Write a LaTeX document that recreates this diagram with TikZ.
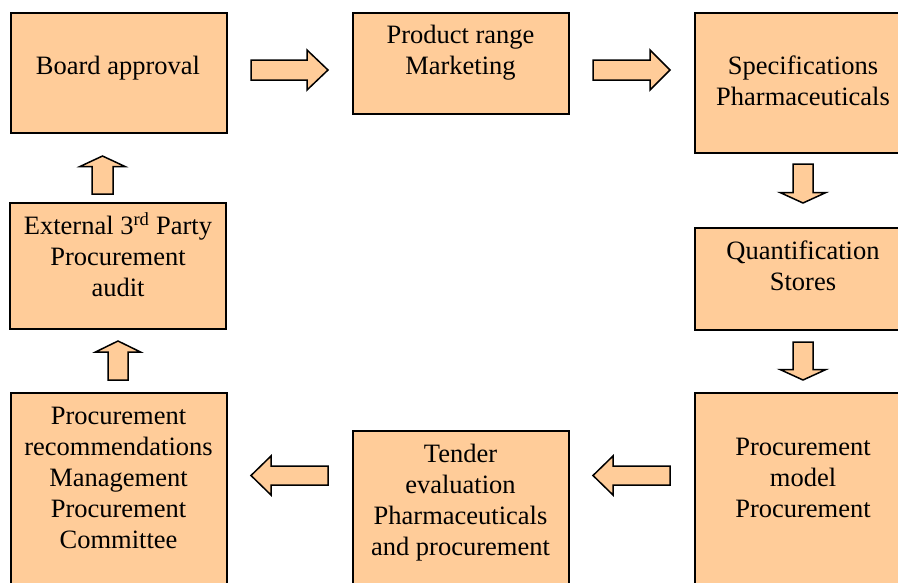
\documentclass[tikz,border=0pt]{standalone}
\usepackage{fontspec}
\setmainfont{Liberation Serif}
\definecolor{peach}{HTML}{FFCC99}
\tikzset{
  procbox/.style={draw=black, fill=peach, line width=2pt, inner sep=0pt, outer sep=0pt, minimum width=216pt},
  boxtext/.style={anchor=north, inner sep=0pt, align=center, font=\fontsize{26.5}{31}\selectfont},
  barrow/.style={draw=black, fill=peach, line width=1.5pt, line join=miter}
}
% tail x, tail y, rotation, length, head length, head half width, shaft half width
\newcommand\blockarr[7]{%
  \draw[barrow, shift={(#1,#2)}, rotate=#3, x=1pt, y=1pt]
    (0,-#7) -- ({#4-#5},-#7) -- ({#4-#5},-#6) -- (#4,0)
    -- ({#4-#5},#6) -- ({#4-#5},#7) -- (0,#7) -- cycle;}
\begin{document}
\begin{tikzpicture}[x=1pt,y=-1pt]
\useasboundingbox (0,0) rectangle (898,582);
\clip (0,0) rectangle (898,582);
\fill[white] (0,0) rectangle (898,582);
% boxes
\node[procbox, minimum height=120pt] (b1) at (118.5,72.5) {};
\node[procbox, minimum height=101pt] (b2) at (460.5,63) {};
\node[procbox, minimum height=140.5pt] (b3) at (803,82.75) {};
\node[procbox, minimum height=102pt] (b4) at (802.5,279) {};
\node[procbox, minimum height=227pt] (b5) at (803,506.5) {};
\node[procbox, minimum height=189pt] (b6) at (460.5,525.5) {};
\node[procbox, minimum height=227pt] (b8) at (118.5,506.5) {};
\node[procbox, minimum height=126pt] (b7) at (118,266) {};
% texts
\node[boxtext] (t1) at (118,21.8) {\strut\\Board approval};
\node[boxtext] (t2) at (460.5,21.8) {\strut Product range\\Marketing};
\node[boxtext] (t3) at (803,21.8) {\strut\\Specifications\\Pharmaceuticals};
\node[boxtext] (t4) at (803,237.3) {\strut Quantification\\Stores};
\node[boxtext] (t5) at (803,402.3) {\strut\\Procurement\\model\\Procurement};
\node[boxtext] (t6) at (460.5,440.3) {\strut Tender\\evaluation\\Pharmaceuticals\\and procurement};
\node[boxtext] (t8) at (118.5,402.3) {\strut Procurement\\recommendations\\Management\\Procurement\\Committee};
\node[boxtext] (t7) at (118,212.8) {\strut External 3\textsuperscript{rd} Party\\Procurement\\audit};
% block arrows
\blockarr{251}{70}{0}{77}{21}{20}{10}
\blockarr{593}{70}{0}{77}{20}{20}{10}
\blockarr{803}{164}{-90}{39}{10.5}{23}{10}
\blockarr{803}{342}{-90}{38}{10.5}{23}{10}
\blockarr{670}{475.5}{180}{77}{20}{19.5}{9.5}
\blockarr{328}{475.5}{180}{77}{20}{19.5}{9.5}
\blockarr{118}{380}{90}{39}{11}{22.5}{10}
\blockarr{102.5}{194}{90}{38}{10.5}{22.5}{10.5}
\end{tikzpicture}
\end{document}
